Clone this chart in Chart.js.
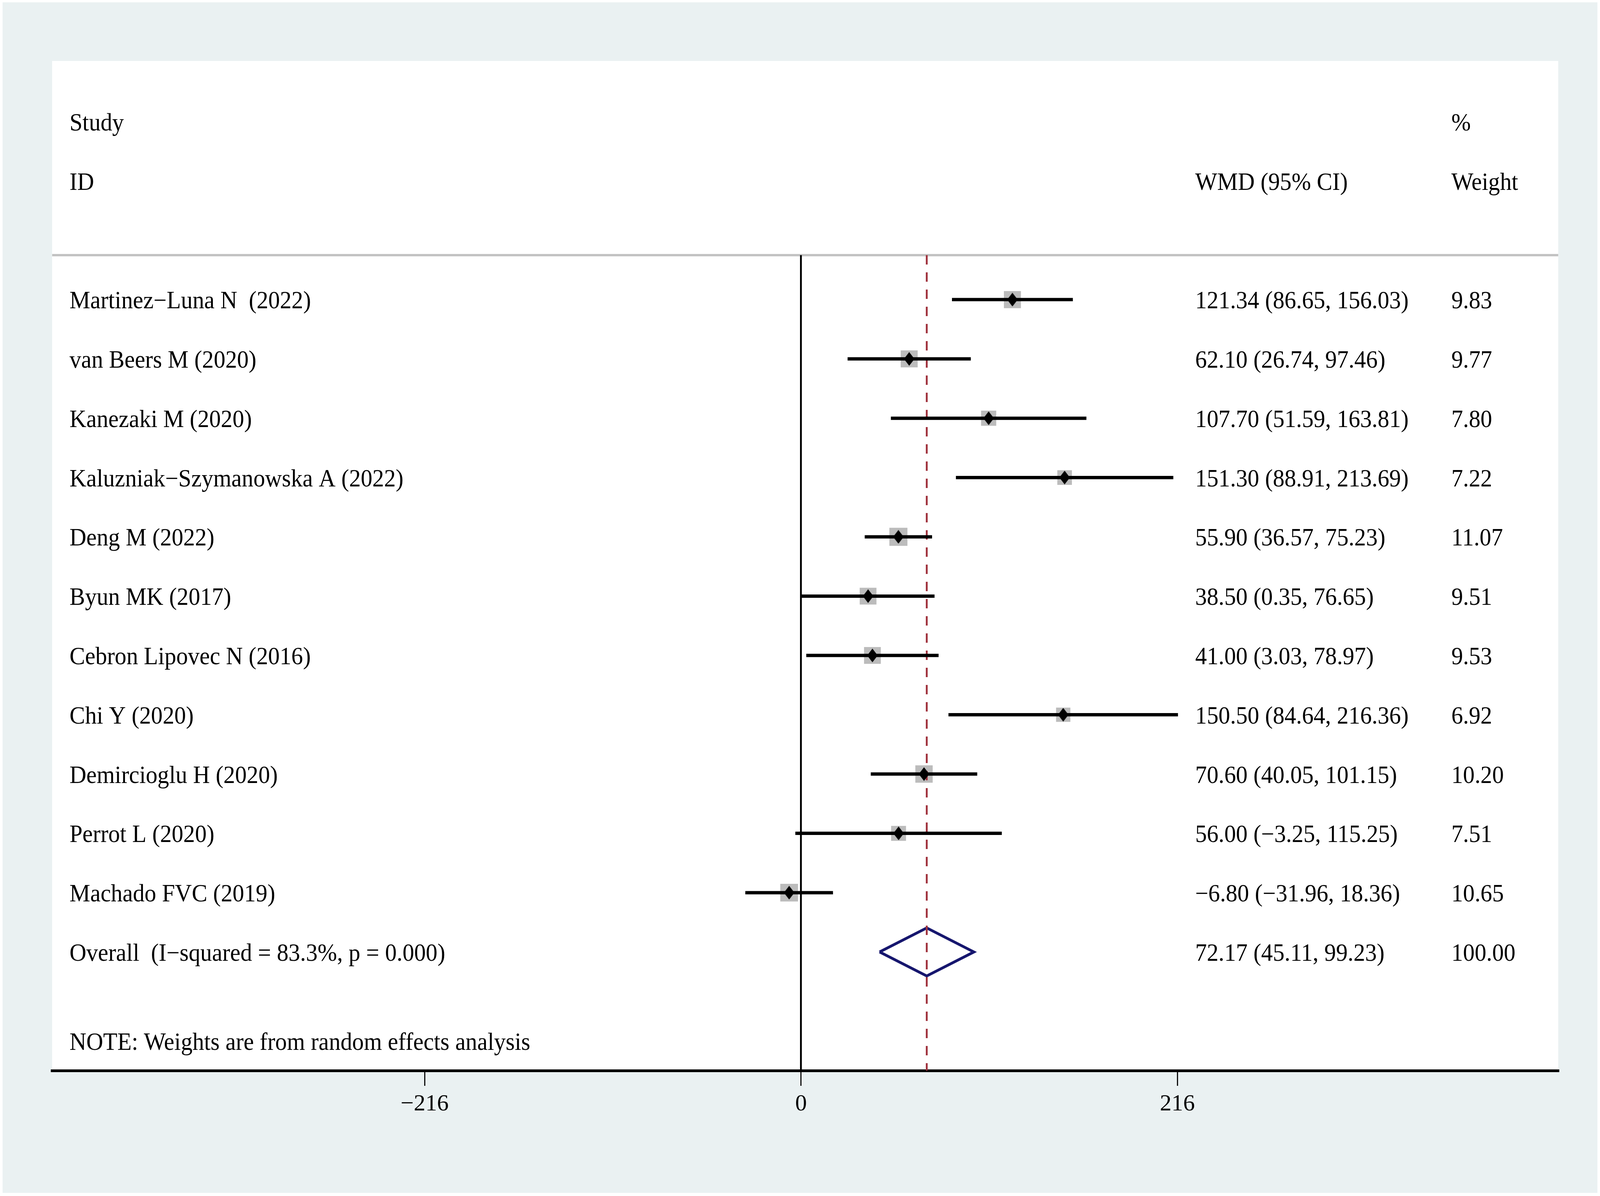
<!DOCTYPE html>
<html><head><meta charset="utf-8">
<script src="https://cdn.jsdelivr.net/npm/chart.js@4.4.1/dist/chart.umd.min.js"></script>
<style>html,body{margin:0;padding:0;background:#fff;overflow:hidden;width:100%;height:100%}canvas{display:block}</style>
</head><body><canvas id="c"></canvas>
<script>
// ---- data ----
const studies = ["Martinez\u2212Luna N  (2022)", "van Beers M (2020)", "Kanezaki M (2020)", "Kaluzniak\u2212Szymanowska A (2022)", "Deng M (2022)", "Byun MK (2017)", "Cebron Lipovec N (2016)", "Chi Y (2020)", "Demircioglu H (2020)", "Perrot L (2020)", "Machado FVC (2019)"];
const wmd = [121.34, 62.10, 107.70, 151.30, 55.90, 38.50, 41.00, 150.50, 70.60, 56.00, -6.80];
const ciLow = [86.65, 26.74, 51.59, 88.91, 36.57, 0.35, 3.03, 84.64, 40.05, -3.25, -31.96];
const ciHigh = [156.03, 97.46, 163.81, 213.69, 75.23, 76.65, 78.97, 216.36, 101.15, 115.25, 18.36];
const weights = [9.83, 9.77, 7.80, 7.22, 11.07, 9.51, 9.53, 6.92, 10.20, 7.51, 10.65];
const overallLabel = "Overall  (I\u2212squared = 83.3%, p = 0.000)";
const overallEst = 72.17;
const overallLow = 45.11;
const overallHigh = 99.23;
const overallWeight = 100.00;
const xTicks = [-216, 0, 216];
const headerStudy = ["Study", "ID"];
const headerCI = "WMD (95% CI)";
const headerWeight = ["%", "Weight"];
const noteText = "NOTE: Weights are from random effects analysis";

// ---- sizing (design grid 4328 x 3061, scaled to the real viewport) ----
const W = window.innerWidth || 4328, H = window.innerHeight || 3061;
const sx = W / 4328, sy = H / 3061, sm = Math.min(sx, sy);
const px = v => v * sx, py = v => v * sy, ps = v => v * sm;
const canvas = document.getElementById('c');
canvas.width = W; canvas.height = H;
canvas.style.width = W + 'px'; canvas.style.height = H + 'px';

// ---- helpers / styles ----
const MINUS = "\u2212";
const fmt = v => v.toFixed(2).replace("-", MINUS);
const FS = 63 * sy;
const FONT = FS + 'px "Liberation Serif", "Times New Roman", serif';
const Y_MIN = -0.75, Y_MAX = 13;
const overallRow = studies.length;
const DIAMOND_H = 0.405;

// black point-estimate marker (slightly taller than wide, as in the original)
const marker = document.createElement('canvas');
(function () {
  const mw = Math.max(2, Math.round(px(29))), mh = Math.max(2, Math.round(py(35)));
  marker.width = mw; marker.height = mh;
  const m = marker.getContext('2d');
  m.fillStyle = '#000';
  m.beginPath();
  m.moveTo(mw / 2, 0); m.lineTo(mw, mh / 2); m.lineTo(mw / 2, mh); m.lineTo(0, mh / 2);
  m.closePath(); m.fill();
})();

const squareData = wmd.map((v, i) => ({x: v, y: i}));
const ciData = [];
ciLow.forEach((lo, i) => { ciData.push({x: lo, y: i}, {x: ciHigh[i], y: i}, {x: null, y: null}); });
const overallDiamond = [
  {x: overallLow, y: overallRow},
  {x: overallEst, y: overallRow - DIAMOND_H},
  {x: overallHigh, y: overallRow},
  {x: overallEst, y: overallRow + DIAMOND_H},
  {x: overallLow, y: overallRow}
];
const refLine = [{x: overallEst, y: Y_MIN}, {x: overallEst, y: Y_MAX}];

const decor = {
  id: 'decor',
  beforeDraw(chart) {
    const ctx = chart.ctx, ca = chart.chartArea;
    ctx.save();
    ctx.fillStyle = '#ffffff';
    ctx.fillRect(0, 0, chart.width, chart.height);
    ctx.fillStyle = '#eaf1f2';
    ctx.fillRect(px(7), py(6), chart.width - px(14), chart.height - py(14));
    ctx.fillStyle = '#ffffff';
    ctx.fillRect(ca.left, py(156), ca.right - ca.left, ca.bottom - py(156));
    ctx.fillStyle = '#c3c3c3';
    ctx.fillRect(ca.left, ca.top - py(3), ca.right - ca.left, py(6));
    ctx.restore();
  },
  afterDatasetsDraw(chart) {
    const ctx = chart.ctx, ys = chart.scales.y;
    const xL = px(188), xC = px(3233), xW = px(3926);
    const row = r => ys.getPixelForValue(r) + py(22.5);
    const text = (s, x, y) => {
      ctx.save();
      ctx.translate(x, y);
      ctx.scale(sx / sy, 1);
      ctx.fillText(s, 0, 0);
      ctx.restore();
    };
    ctx.save();
    ctx.font = FONT;
    ctx.fillStyle = '#000';
    ctx.textAlign = 'left';
    ctx.textBaseline = 'alphabetic';
    text(headerStudy[0], xL, row(-3));
    text(headerStudy[1], xL, row(-2));
    text(headerCI, xC, row(-2));
    text(headerWeight[0], xW, row(-3));
    text(headerWeight[1], xW, row(-2));
    studies.forEach((s, i) => {
      text(s, xL, row(i));
      text(fmt(wmd[i]) + ' (' + fmt(ciLow[i]) + ', ' + fmt(ciHigh[i]) + ')', xC, row(i));
      text(weights[i].toFixed(2), xW, row(i));
    });
    text(overallLabel, xL, row(overallRow));
    text(fmt(overallEst) + ' (' + fmt(overallLow) + ', ' + fmt(overallHigh) + ')', xC, row(overallRow));
    text(overallWeight.toFixed(2), xW, row(overallRow));
    text(noteText, xL, row(overallRow + 1.5));
    ctx.restore();
  }
};

new Chart(canvas, {
  type: 'scatter',
  data: {
    datasets: [
      {label: 'weight', data: squareData, pointStyle: 'rect', backgroundColor: '#bcbcbc', borderWidth: 0,
       pointRadius: c => ps(10.4) * Math.sqrt(weights[c.dataIndex]), order: 7},
      {label: 'overall', data: overallDiamond, showLine: true, borderColor: '#16166e', borderWidth: py(7),
       borderJoinStyle: 'miter', pointRadius: 0, order: 6},
      {label: 'ref', data: refLine, showLine: true, borderColor: '#a0323d', borderWidth: px(5),
       borderDash: [py(24), py(20)], pointRadius: 0, order: 5},
      {label: 'ci', data: ciData, showLine: true, spanGaps: false, borderColor: '#000', borderWidth: py(8.5),
       borderCapStyle: 'butt', pointRadius: 0, order: 4},
      {label: 'est', data: squareData, pointStyle: marker, pointRadius: ps(15), backgroundColor: '#000',
       borderWidth: 0, order: 1}
    ]
  },
  options: {
    responsive: false,
    maintainAspectRatio: false,
    animation: false,
    layout: {padding: {left: px(141), right: px(113), top: py(653), bottom: 0}},
    plugins: {legend: {display: false}, tooltip: {enabled: false}},
    scales: {
      x: {
        type: 'linear', position: 'bottom', min: -429.8, max: 434.6,
        afterBuildTicks: s => { s.ticks = xTicks.map(v => ({value: v})); },
        afterFit: s => { s.height = H - py(2740); },
        ticks: {
          font: {family: '"Liberation Serif"', size: 63 * sm}, color: '#000', padding: py(10) + (63 * sy - 63 * sm) * 0.6,
          autoSkip: false, maxRotation: 0,
          callback: v => String(v).replace('-', MINUS)
        },
        grid: {
          drawOnChartArea: true,
          color: c => (c.tick && c.tick.value === 0) ? '#000' : 'rgba(0,0,0,0)',
          lineWidth: px(5), tickLength: py(39), tickWidth: px(3), tickColor: '#000'
        },
        border: {display: true, color: '#000', width: py(7)}
      },
      y: {type: 'linear', reverse: true, min: Y_MIN, max: Y_MAX, display: false}
    }
  },
  plugins: [decor]
});
</script></body></html>
